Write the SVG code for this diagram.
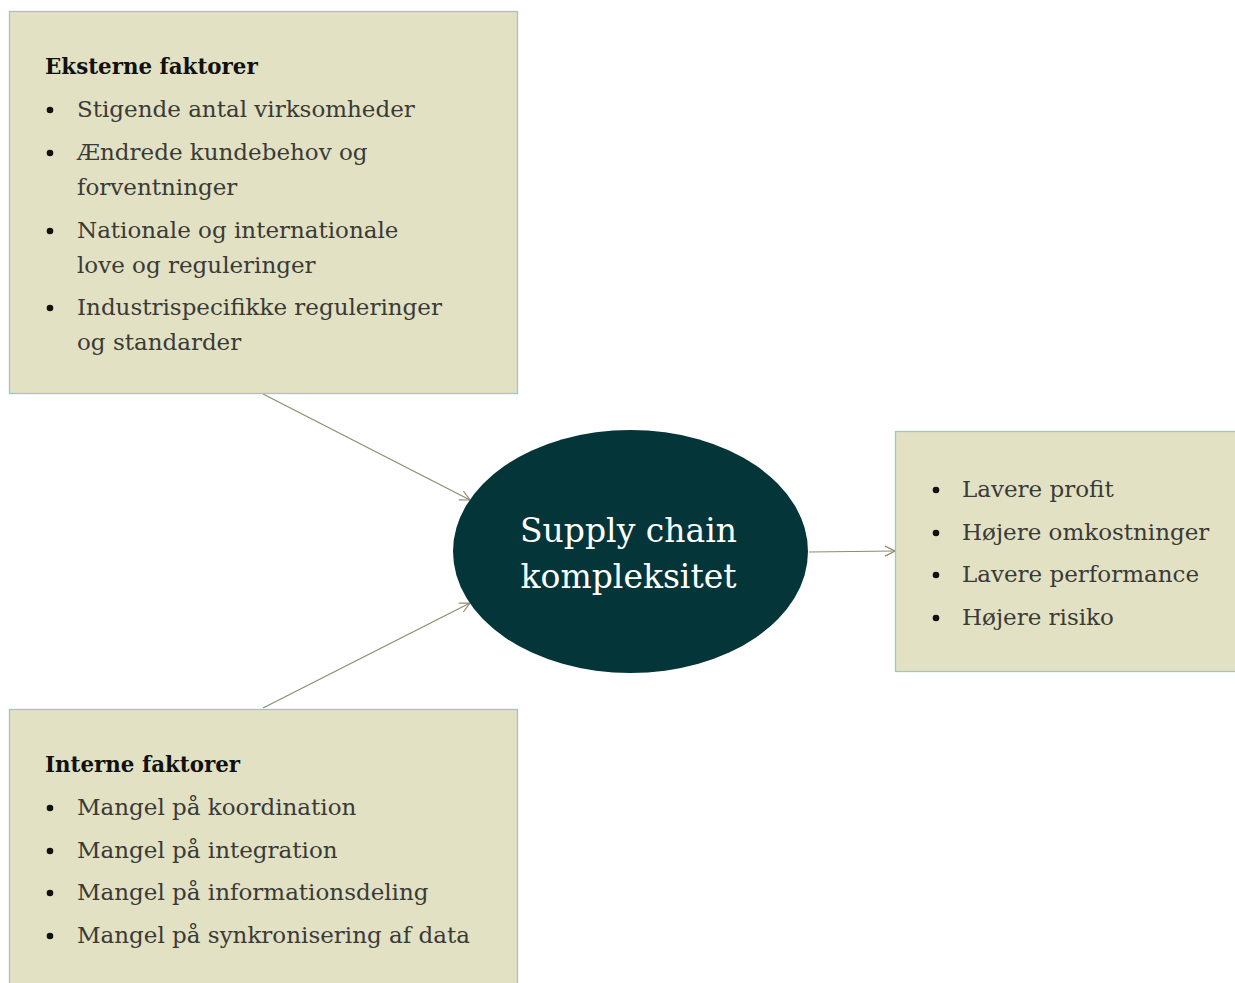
<svg xmlns="http://www.w3.org/2000/svg" width="1235" height="983" viewBox="0 0 1235 983">
<defs>
<style>
.box{fill:#e2e1c4;stroke:#9fc6c4;stroke-width:1.3}
.title{font-family:"DejaVu Serif","Liberation Serif",serif;font-weight:bold;font-size:21.4px;fill:#111}
.item{font-family:"DejaVu Serif","Liberation Serif",serif;font-size:23px;fill:#3a3a36}
.dot{fill:#111}
.conn{stroke:#8f8b6d;stroke-width:1.2;fill:none;marker-end:url(#arr)}
.center{font-family:"DejaVu Serif","Liberation Serif",serif;font-size:33px;fill:#ffffff;text-anchor:middle}
</style>
<marker id="arr" viewBox="0 0 12 12" refX="11" refY="6" markerWidth="12" markerHeight="12" markerUnits="userSpaceOnUse" orient="auto">
<path d="M1,1 L11,6 L1,11" fill="none" stroke="#8f8b6d" stroke-width="1.2"/>
</marker>
</defs>
<rect width="1235" height="983" fill="#ffffff"/>
<g id="connectors">
<line class="conn" x1="263" y1="394" x2="470" y2="500"/>
<line class="conn" x1="263" y1="708" x2="470" y2="603"/>
<line class="conn" x1="809" y1="552" x2="895" y2="551"/>
</g>
<g id="eksterne">
<rect class="box" x="9.5" y="11.5" width="508" height="382"/>
<text class="title" x="45" y="74">Eksterne faktorer</text>
<circle class="dot" cx="50" cy="110" r="3.3"/>
<circle class="dot" cx="50" cy="153" r="3.3"/>
<circle class="dot" cx="50" cy="231" r="3.3"/>
<circle class="dot" cx="50" cy="308" r="3.3"/>
<text class="item" x="77" y="117">Stigende antal virksomheder</text>
<text class="item" x="77" y="160">Ændrede kundebehov og</text>
<text class="item" x="77" y="195">forventninger</text>
<text class="item" x="77" y="238">Nationale og internationale</text>
<text class="item" x="77" y="273">love og reguleringer</text>
<text class="item" x="77" y="315">Industrispecifikke reguleringer</text>
<text class="item" x="77" y="350">og standarder</text>
</g>
<g id="center">
<ellipse cx="630.5" cy="551.5" rx="177.5" ry="121.5" fill="#033539"/>
<text class="center" x="628.5" y="542">Supply chain</text>
<text class="center" x="628.5" y="588">kompleksitet</text>
</g>
<g id="konsekvenser">
<rect class="box" x="895.5" y="431.5" width="345" height="240"/>
<circle class="dot" cx="936" cy="490" r="3.3"/>
<circle class="dot" cx="936" cy="533" r="3.3"/>
<circle class="dot" cx="936" cy="575" r="3.3"/>
<circle class="dot" cx="936" cy="618" r="3.3"/>
<text class="item" x="962" y="497">Lavere profit</text>
<text class="item" x="962" y="540">Højere omkostninger</text>
<text class="item" x="962" y="582">Lavere performance</text>
<text class="item" x="962" y="625">Højere risiko</text>
</g>
<g id="interne">
<rect class="box" x="9.5" y="709.5" width="508" height="290"/>
<text class="title" x="45" y="772">Interne faktorer</text>
<circle class="dot" cx="50" cy="808" r="3.3"/>
<circle class="dot" cx="50" cy="851" r="3.3"/>
<circle class="dot" cx="50" cy="893" r="3.3"/>
<circle class="dot" cx="50" cy="936" r="3.3"/>
<text class="item" x="77" y="815">Mangel på koordination</text>
<text class="item" x="77" y="858">Mangel på integration</text>
<text class="item" x="77" y="900">Mangel på informationsdeling</text>
<text class="item" x="77" y="943">Mangel på synkronisering af data</text>
</g>
</svg>
